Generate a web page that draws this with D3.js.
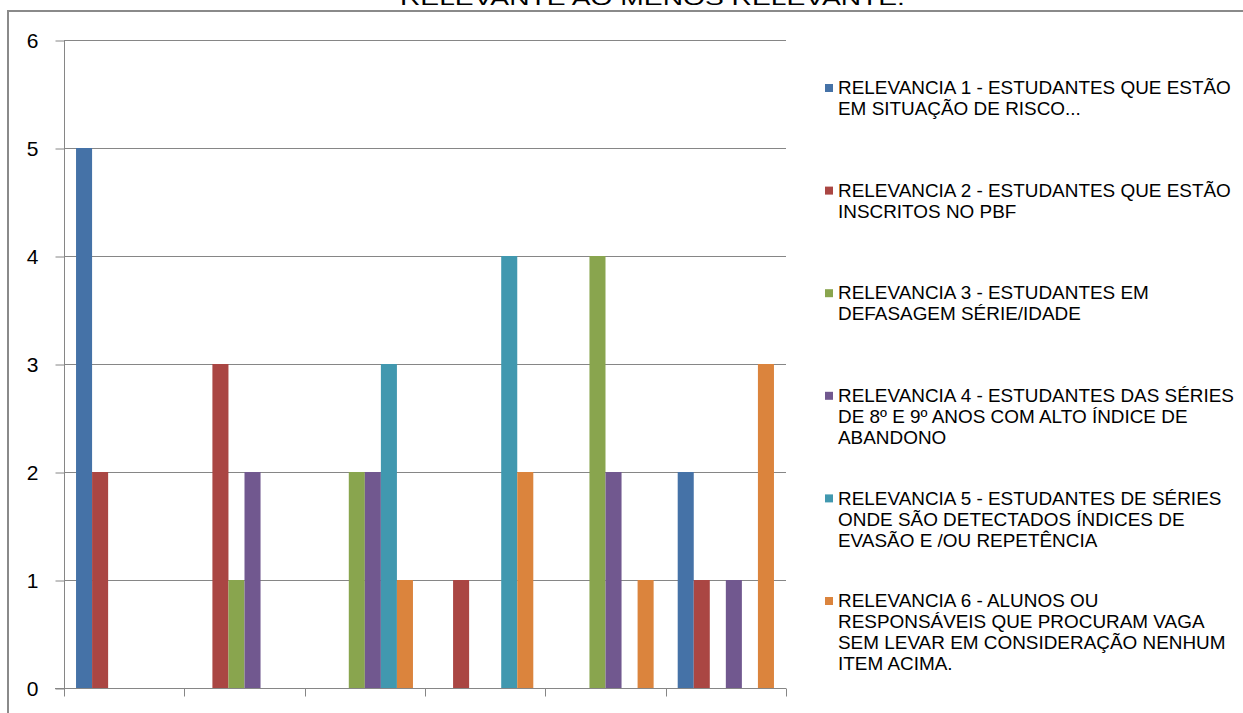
<!DOCTYPE html>
<html><head><meta charset="utf-8">
<script src="https://cdn.jsdelivr.net/npm/d3@7"></script>
<style>body{margin:0;background:#fff;}svg{display:block;}</style>
</head><body>
<svg id="c" width="1243" height="713"></svg>
<script>
const categories = ["1","2","3","4","5","6"];
const seriesNames = ["R1","R2","R3","R4","R5","R6"];
const r1 = [5,0,0,0,0,2];
const r2 = [2,3,0,1,0,1];
const r3 = [0,1,2,0,4,0];
const r4 = [0,2,2,0,2,1];
const r5 = [0,0,3,4,0,0];
const r6 = [0,0,1,2,1,3];
const colors = ["#4572A7","#AA4643","#89A54E","#71588F","#4198AF","#DB843D"];
const yTicks = [0,1,2,3,4,5,6];
const titleText = "RELEVANTE AO MENOS RELEVANTE.";
const legendLines = [
  ["RELEVANCIA 1 - ESTUDANTES QUE ESTÃO","EM SITUAÇÃO DE RISCO..."],
  ["RELEVANCIA 2 - ESTUDANTES QUE ESTÃO","INSCRITOS NO PBF"],
  ["RELEVANCIA 3 - ESTUDANTES EM","DEFASAGEM SÉRIE/IDADE"],
  ["RELEVANCIA 4 - ESTUDANTES DAS SÉRIES","DE 8º E 9º ANOS COM ALTO ÍNDICE DE","ABANDONO"],
  ["RELEVANCIA 5 - ESTUDANTES DE SÉRIES","ONDE SÃO DETECTADOS ÍNDICES DE","EVASÃO E /OU REPETÊNCIA"],
  ["RELEVANCIA 6 - ALUNOS OU","RESPONSÁVEIS QUE PROCURAM VAGA","SEM LEVAR EM CONSIDERAÇÃO NENHUM","ITEM ACIMA."]
];
const values = [r1,r2,r3,r4,r5,r6];

(function(){
const svg = d3.select("#c");
const font = "'Liberation Sans', Arial, sans-serif";
const gray = "#868686";

// frame
svg.append("rect").attr("x",8).attr("y",11).attr("width",1245).attr("height",720)
  .attr("fill","none").attr("stroke","#8a8a8a").attr("stroke-width",2);

// title (cut off at top, as in the reference)
const tg = svg.append("g");
const tt = tg.append("text").text(titleText).attr("font-family",font).attr("font-size",20)
  .attr("fill","#000").attr("x",0).attr("y",0);
const tw = tt.node().getComputedTextLength();
const tsx = 505/tw;
tg.attr("transform",`translate(${652-252},5) scale(${tsx},1)`);

const pl=64, pr=786, pt=40, pb=688;
const x0 = d3.scaleBand().domain(categories).range([pl,pr]).padding(0);
const x1 = d3.scaleBand().domain(seriesNames).range([x0.bandwidth()*0.1, x0.bandwidth()*0.9]).padding(0);
const y = d3.scaleLinear().domain([0,6]).range([pb,pt]);

// gridlines
svg.append("g").selectAll("line").data(yTicks.filter(d=>d>0)).join("line")
  .attr("x1",pl).attr("x2",pr).attr("y1",d=>y(d)+0.5).attr("y2",d=>y(d)+0.5)
  .attr("stroke",gray).attr("stroke-width",1);

// bars
const gs = svg.append("g").selectAll("g").data(categories).join("g")
  .attr("transform",d=>`translate(${x0(d)},0)`);
gs.selectAll("rect").data((c,ci)=>seriesNames.map((s,si)=>({s,si,v:values[si][ci]}))).join("rect")
  .attr("x",d=>x1(d.s)).attr("width",x1.bandwidth())
  .attr("y",d=>y(d.v)).attr("height",d=>y(0)-y(d.v))
  .attr("fill",d=>colors[d.si]);

// y axis
const ya = svg.append("g").attr("transform",`translate(${pl+0.5},0)`)
  .call(d3.axisLeft(y).tickValues(yTicks).tickSize(9).tickPadding(17).tickFormat(d3.format("d")));
ya.select(".domain").attr("stroke",gray).attr("d",`M0,${pt}V${pb}`);
ya.selectAll(".tick line").attr("stroke",gray).attr("transform","translate(0,0.5)");
ya.selectAll(".tick text").attr("font-family",font).attr("font-size",21).attr("fill","#000")
  .attr("text-anchor","middle").attr("x",-32).attr("dy","0.36em");

// x axis
const xa = svg.append("g").attr("transform",`translate(0,${pb+0.5})`);
xa.append("line").attr("x1",pl-9).attr("x2",pr).attr("stroke",gray);
const bounds = categories.map(c=>x0(c)).concat([x0(categories[categories.length-1])+x0.bandwidth()]);
xa.selectAll("line.t").data(bounds).join("line").attr("class","t")
  .attr("x1",d=>Math.round(d)+0.5).attr("x2",d=>Math.round(d)+0.5).attr("y1",0).attr("y2",8)
  .attr("stroke",gray);

// legend
const lg = svg.append("g");
const entryTop = 88, entryStep = 102.6, lineStep = 21;
legendLines.forEach((lines,i)=>{
  const cy = entryTop + i*entryStep;
  lg.append("rect").attr("x",825).attr("y",cy-4).attr("width",8).attr("height",8).attr("fill",colors[i]);
});
const ltg = lg.append("g");
const ltexts = [];
legendLines.forEach((lines,i)=>{
  const cy = entryTop + i*entryStep;
  lines.forEach((ln,j)=>{
    ltexts.push(ltg.append("text").text(ln).attr("font-family",font).attr("font-size",17.5)
      .attr("fill","#000").attr("x",0).attr("y",cy + j*lineStep).attr("dy","0.36em"));
  });
});
const w0 = ltexts[0].node().getComputedTextLength();
const lsx = 393/w0;
ltg.attr("transform",`translate(838,0) scale(${lsx},1)`);
})();
</script>
</body></html>
